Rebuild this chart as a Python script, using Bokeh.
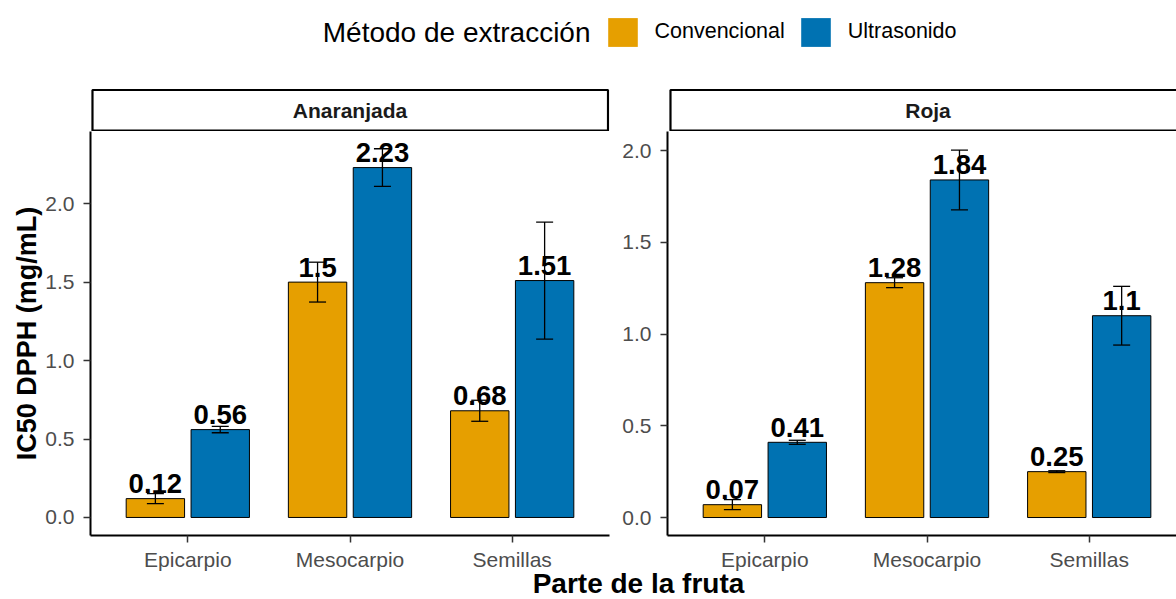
from bokeh.plotting import figure
from bokeh.models import (ColumnDataSource, Range1d, FixedTicker, PrintfTickFormatter,
                          Whisker, TeeHead, Legend, LegendItem, Label)
from bokeh.layouts import column, row
from bokeh.embed import file_html
from bokeh.resources import INLINE
from bokeh.core.properties import value

FONT = "Liberation Sans"

# ---------------- data ----------------
parts = ["Epicarpio", "Mesocarpio", "Semillas"]
methods = ["Convencional", "Ultrasonido"]
varieties = ["Anaranjada", "Roja"]

anaranjada_convencional = [0.12, 1.50, 0.68]
anaranjada_ultrasonido = [0.56, 2.23, 1.51]
anaranjada_convencional_sd = [0.032, 0.127, 0.067]
anaranjada_ultrasonido_sd = [0.020, 0.120, 0.373]

roja_convencional = [0.07, 1.28, 0.25]
roja_ultrasonido = [0.41, 1.84, 1.10]
roja_convencional_sd = [0.027, 0.027, 0.005]
roja_ultrasonido_sd = [0.011, 0.163, 0.160]

method_colors = ["#E69F00", "#0072B2"]
y_ticks = [0.0, 0.5, 1.0, 1.5, 2.0]

TICK_COLOR = "#4D4D4D"


def style_axes(p):
    for ax in (p.xaxis[0], p.yaxis[0]):
        ax.axis_line_color = "black"
        ax.axis_line_width = 2
        ax.major_tick_line_color = "#333333"
        ax.major_tick_line_width = 1.5
        ax.major_tick_out = 7
        ax.major_tick_in = 0
        ax.minor_tick_line_color = None
        ax.major_label_text_font = FONT
        ax.major_label_text_font_size = "21px"
        ax.major_label_text_color = TICK_COLOR
    p.xaxis.major_label_standoff = 5
    p.yaxis.major_label_standoff = 9


def main_panel(conv, ultra, conv_sd, ultra_sd, y_start, y_end, x_end,
               width, border_left, border_right, ylabel=None):
    p = figure(width=width, height=442,
               x_range=Range1d(0.4, x_end), y_range=Range1d(y_start, y_end),
               output_backend="svg", toolbar_location=None,
               min_border_left=border_left, min_border_right=border_right,
               min_border_top=0, min_border_bottom=38)
    p.outline_line_color = None
    p.xgrid.grid_line_color = None
    p.ygrid.grid_line_color = None
    p.background_fill_color = "white"
    p.border_fill_color = "white"

    for vals, sds, color, off in ((conv, conv_sd, method_colors[0], -0.2),
                                  (ultra, ultra_sd, method_colors[1], 0.2)):
        src = ColumnDataSource(dict(
            x=[k + 1 + off for k in range(len(parts))],
            top=vals,
            upper=[v + s for v, s in zip(vals, sds)],
            lower=[v - s for v, s in zip(vals, sds)],
            label=[f"{v:g}" for v in vals],
        ))
        p.vbar(x="x", top="top", bottom=0, width=0.36, source=src,
               fill_color=color, line_color="black", line_width=1)
        w = Whisker(source=src, base="x", upper="upper", lower="lower",
                    line_color="black", line_width=1.3, level="annotation",
                    upper_head=TeeHead(size=17, line_color="black", line_width=1.3),
                    lower_head=TeeHead(size=17, line_color="black", line_width=1.3))
        p.add_layout(w)
        p.text(x="x", y="top", text="label", source=src,
               text_align="center", text_baseline="middle", y_offset=-15,
               text_font=value(FONT), text_font_style="bold",
               text_font_size="27.5px", text_color="black")

    p.xaxis.ticker = FixedTicker(ticks=[1, 2, 3])
    p.xaxis.major_label_overrides = {k + 1: name for k, name in enumerate(parts)}
    p.yaxis.ticker = FixedTicker(ticks=y_ticks)
    p.yaxis.formatter = PrintfTickFormatter(format="%.1f")
    style_axes(p)
    if ylabel:
        p.yaxis.axis_label = ylabel
        p.yaxis.axis_label_text_font = FONT
        p.yaxis.axis_label_text_font_style = "bold"
        p.yaxis.axis_label_text_font_size = "27px"
        p.yaxis.axis_label_text_color = "black"
        p.yaxis.axis_label_standoff = 0
    return p


def strip_fig(name, width, border_left, x0, x1, box_left, box_right, center):
    s = figure(width=width, height=43, x_range=Range1d(x0, x1), y_range=Range1d(131, 88),
               output_backend="svg", toolbar_location=None,
               x_axis_location=None, y_axis_location=None,
               min_border_left=border_left, min_border_right=0,
               min_border_top=0, min_border_bottom=0)
    s.outline_line_color = None
    s.grid.visible = False
    s.quad(left=[box_left], right=[box_right], top=[89.5], bottom=[130.2],
           fill_color="white", line_color="black", line_width=2.2)
    s.text(x=[center], y=[109.5], text=[name], text_align="center", text_baseline="middle",
           text_font=value(FONT), text_font_style="bold", text_font_size="21px",
           text_color="#1A1A1A")
    return s


# ---------------- legend row ----------------
leg = figure(width=1176, height=88, x_range=Range1d(0, 1176), y_range=Range1d(88, 0),
             output_backend="svg", toolbar_location=None,
             x_axis_location=None, y_axis_location=None,
             min_border_left=0, min_border_right=0, min_border_top=0, min_border_bottom=0)
leg.outline_line_color = None
leg.grid.visible = False
r_items = []
for m, c in zip(methods, method_colors):
    r = leg.vbar(x=[-500], top=[0], width=1, fill_color=c, line_color=None)
    r_items.append(LegendItem(label=m, renderers=[r]))
legend = Legend(items=r_items, orientation="horizontal", location=(603.5, 38.5),
                glyph_width=37, glyph_height=36, label_standoff=14, spacing=12,
                padding=0, margin=0, border_line_color=None, background_fill_alpha=0,
                label_text_font=FONT, label_text_font_size="21.5px",
                label_text_color="black", label_text_baseline="middle")
leg.add_layout(legend)
leg.add_layout(Label(x=590, y=32, text="Método de extracción", text_align="right",
                     text_baseline="middle", text_font=FONT, text_font_size="28px",
                     text_color="black"))

# ---------------- panels ----------------
p_left = main_panel(anaranjada_convencional, anaranjada_ultrasonido,
                    anaranjada_convencional_sd, anaranjada_ultrasonido_sd,
                    -0.115, 2.46, 3.6, 611, 90, 2, ylabel="IC50 DPPH (mg/mL)")
p_right = main_panel(roja_convencional, roja_ultrasonido,
                     roja_convencional_sd, roja_ultrasonido_sd,
                     -0.098, 2.104, 0.4 + 509 / 162.2, 565, 56, 0)

s_left = strip_fig(varieties[0], 611, 88, 88, 611, 90, 609.5, 349.5)
s_right = strip_fig(varieties[1], 565, 54, 665, 1176, 668, 1230, 926.5)

# ---------------- x title ----------------
xt = figure(width=1176, height=34, x_range=Range1d(0, 1176), y_range=Range1d(599, 565),
            output_backend="svg", toolbar_location=None,
            x_axis_location=None, y_axis_location=None,
            min_border_left=0, min_border_right=0, min_border_top=0, min_border_bottom=0,
            styles={"margin-top": "-8px"})
xt.outline_line_color = None
xt.background_fill_alpha = 0
xt.border_fill_alpha = 0
xt.grid.visible = False
xt.text(x=[638], y=[582.5], text=["Parte de la fruta"], text_align="center",
        text_baseline="middle", text_font=value(FONT), text_font_style="bold",
        text_font_size="28px", text_color="black")

layout = column(leg, row(column(s_left, p_left), column(s_right, p_right)), xt)

open("out.html", "w").write(file_html(layout, INLINE))
